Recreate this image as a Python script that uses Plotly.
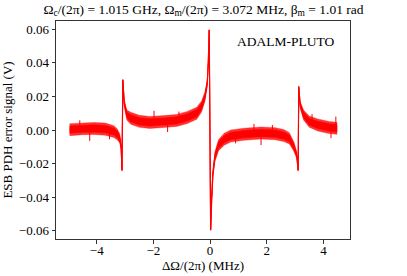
import plotly.graph_objects as go

# Detuning (MHz) at read points along the trace
detuning = [-4.96, -4.5, -4.1, -3.7, -3.4, -3.28, -3.19, -3.14, -3.11,
            -3.08, -3.03, -2.94, -2.8, -2.5, -2.13, -1.6, -1.18, -0.8, -0.47,
            -0.3, -0.18, -0.1, -0.06, -0.03,
            0.02, 0.05, 0.1, 0.17, 0.3, 0.5, 0.73, 1.2, 1.8, 2.3, 2.6, 2.8,
            2.96, 3.06, 3.11,
            3.13, 3.18, 3.3, 3.5, 3.8, 4.2, 4.48]
# Centre of the noisy error signal (V)
signal = [0.0002, 0.0008, 0.0009, 0.0005, -0.0009, -0.0025, -0.005, -0.010, -0.024,
          0.0298, 0.016, 0.009, 0.007, 0.0052, 0.0045, 0.0050, 0.0057, 0.0075, 0.010,
          0.014, 0.020, 0.028, 0.040, 0.0596,
          -0.0596, -0.042, -0.026, -0.016, -0.009, -0.0055, -0.0036, -0.0025, -0.0018, -0.0022, -0.0033, -0.005,
          -0.010, -0.015, -0.024,
          0.0258, 0.015, 0.009, 0.005, 0.003, 0.0015, 0.0010]
# Half width of the noise band (V)
noise = [0.0036, 0.0036, 0.0036, 0.0036, 0.0035, 0.0033, 0.0028, 0.002, 0.0005,
         0.0005, 0.002, 0.003, 0.0036, 0.0036, 0.0036, 0.0036, 0.0036, 0.0036, 0.0036,
         0.0033, 0.0028, 0.002, 0.001, 0.0003,
         0.0003, 0.001, 0.002, 0.003, 0.0033, 0.0036, 0.0036, 0.0036, 0.0036, 0.0036, 0.0036, 0.0034,
         0.0028, 0.002, 0.0005,
         0.0005, 0.002, 0.003, 0.0033, 0.0036, 0.0036, 0.0036]

# Isolated noise spikes: position (MHz), base and tip (V)
spike_x = [-4.6, -4.25, -3.55, -1.98, -1.1, -1.5, 0.9, 1.55, 1.8, 2.2, 3.6, 4.27, 4.44]
spike_base = [0.0008, 0.0009, 0.0, 0.0048, 0.0057, 0.005, -0.003, -0.002, -0.0018, -0.002, 0.004, 0.0015, 0.001]
spike_tip = [0.0058, -0.0065, -0.0055, 0.0115, 0.011, -0.0012, -0.008, 0.0036, -0.009, 0.003, 0.0095, -0.0048, 0.008]

x_ticks = [-4, -2, 0, 2, 4]
y_ticks = [-0.06, -0.04, -0.02, 0.00, 0.02, 0.04, 0.06]

upper = [s + n for s, n in zip(signal, noise)]
lower = [s - n for s, n in zip(signal, noise)]
upper_in = [s + 0.6 * n for s, n in zip(signal, noise)]
lower_in = [s - 0.6 * n for s, n in zip(signal, noise)]

RED = "#ff0000"
FONT = "Liberation Serif"

fig = go.Figure()
fig.add_trace(go.Scatter(
    x=detuning + detuning[::-1], y=upper + lower[::-1],
    fill="toself", fillcolor="rgba(255,0,0,0.8)", mode="lines",
    line=dict(color="rgba(255,0,0,0.55)", width=0.6), hoverinfo="skip", showlegend=False))
fig.add_trace(go.Scatter(
    x=detuning + detuning[::-1], y=upper_in + lower_in[::-1],
    fill="toself", fillcolor=RED, mode="lines",
    line=dict(color=RED, width=0.5), hoverinfo="skip", showlegend=False))
sx, sy = [], []
for x0, b, t in zip(spike_x, spike_base, spike_tip):
    sx += [x0, x0, None]
    sy += [b, t, None]
fig.add_trace(go.Scatter(x=sx, y=sy, mode="lines", line=dict(color=RED, width=1),
                         hoverinfo="skip", showlegend=False))
fig.add_trace(go.Scatter(
    x=detuning, y=signal, mode="lines",
    line=dict(color=RED, width=1.2), showlegend=False))

axis_common = dict(showline=True, mirror=True, linecolor="#333333", linewidth=1,
                   ticks="outside", ticklen=3.5, tickcolor="#333333",
                   showgrid=False, zeroline=False, automargin=False,
                   tickfont=dict(family=FONT, size=13, color="black"))

fig.update_xaxes(range=[-5.44, 4.94], tickvals=x_ticks, ticklabelstandoff=-4,
                 title=dict(text="ΔΩ/(2π) (MHz)", font=dict(family=FONT, size=13, color="black"),
                            standoff=2),
                 **axis_common)
fig.update_yaxes(range=[-0.065, 0.065], tickvals=y_ticks, tickformat=".2f",
                 title=dict(text="ESB PDH error signal (V)", font=dict(family=FONT, size=13, color="black"),
                            standoff=6),
                 **axis_common)

fig.update_layout(
    width=407, height=276,
    margin=dict(l=56, r=57, t=21, b=37, autoexpand=False),
    paper_bgcolor="white", plot_bgcolor="white",
    title=dict(text="Ω<sub>c</sub>/(2π) = 1.015 GHz, Ω<sub>m</sub>/(2π) = 3.072 MHz, β<sub>m</sub> = 1.01 rad",
               x=0.5, xanchor="center", y=0.985, yanchor="top",
               font=dict(family=FONT, size=13.5, color="black")),
    annotations=[dict(text="ADALM-PLUTO", x=0.782, y=0.905, xref="paper", yref="paper",
                      xanchor="center", yanchor="middle", showarrow=False,
                      font=dict(family=FONT, size=13.5, color="black"))],
)

fig.write_html("out.html", config={"displayModeBar": False},
               post_script="document.body.style.margin='0';")
